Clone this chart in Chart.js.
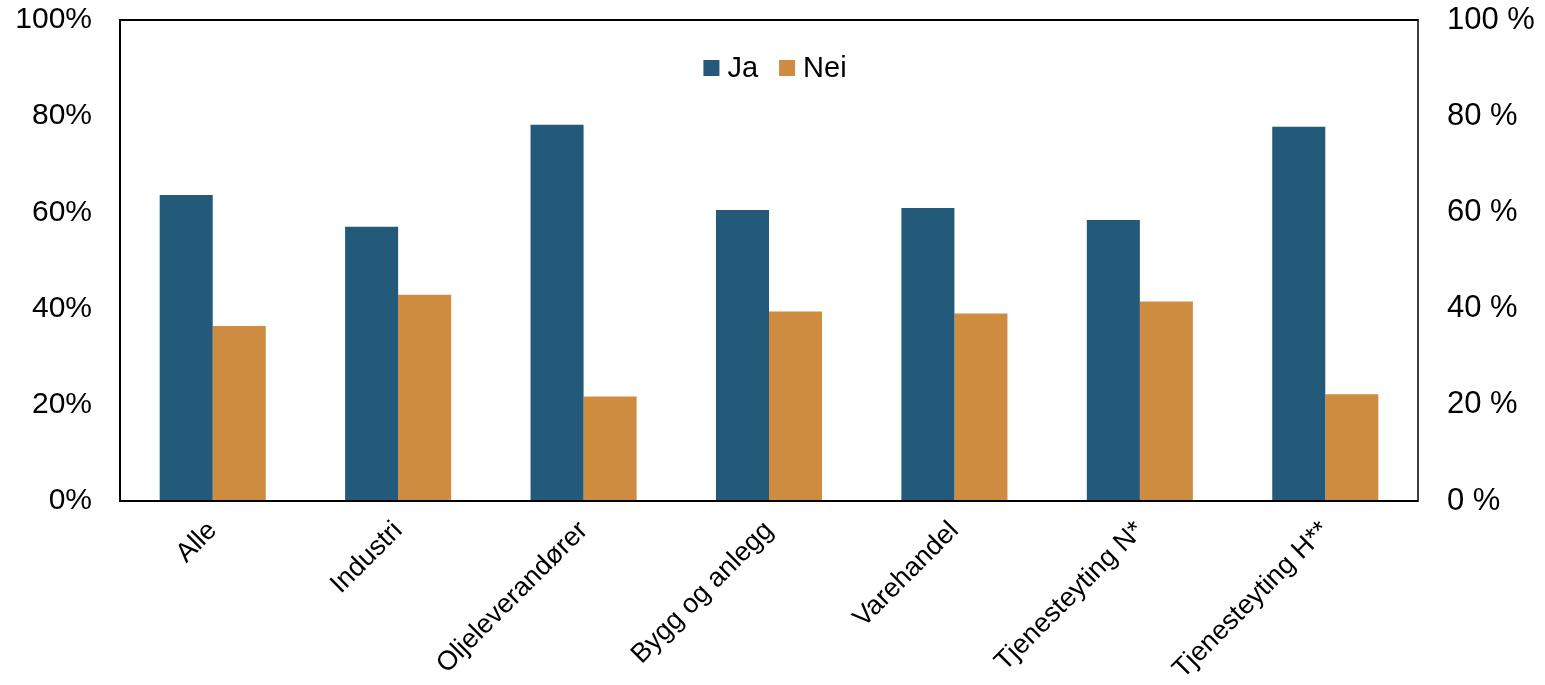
<!DOCTYPE html>
<html>
<head>
<meta charset="utf-8">
<script src="https://cdn.jsdelivr.net/npm/chart.js@4"></script>
<style>
  html, body { margin: 0; padding: 0; background: #ffffff; }
  #wrap { width: 1545px; height: 685px; position: relative; }
</style>
</head>
<body>
<div id="wrap"><canvas id="c" width="1545" height="685"></canvas></div>
<script>
const categories = ["Alle", "Industri", "Oljeleverandører", "Bygg og anlegg", "Varehandel", "Tjenesteyting N*", "Tjenesteyting H**"];
const jaValues  = [63.6, 57.0, 78.2, 60.5, 60.9, 58.4, 77.8];
const neiValues = [36.4, 42.9, 21.7, 39.4, 39.0, 41.5, 22.2];
const seriesNames = ["Ja", "Nei"];
const seriesColors = ["#235A79", "#CE8C41"];
const yTicks = [0, 20, 40, 60, 80, 100];

const FONT = "'Liberation Sans', Arial, sans-serif";

const frame = {
  id: 'frame',
  afterDraw(chart) {
    const a = chart.chartArea, ctx = chart.ctx;
    ctx.save();
    ctx.strokeStyle = '#000';
    ctx.lineWidth = 2;
    ctx.beginPath();
    ctx.moveTo(a.left - 1, a.top); ctx.lineTo(a.right, a.top);
    ctx.moveTo(a.left, a.top); ctx.lineTo(a.left, a.bottom);
    ctx.moveTo(a.left - 1, a.bottom); ctx.lineTo(a.right, a.bottom);
    ctx.stroke();
    ctx.lineWidth = 1.5;
    ctx.beginPath();
    ctx.moveTo(a.right, a.top - 1); ctx.lineTo(a.right, a.bottom + 1);
    ctx.stroke();
    ctx.restore();
  }
};

const innerLegend = {
  id: 'innerLegend',
  afterDraw(chart) {
    const a = chart.chartArea, ctx = chart.ctx;
    const box = 16, gapText = 8, gapItem = 21;
    ctx.save();
    ctx.font = "29px " + FONT;
    const items = chart.data.datasets.map(d => ({ label: d.label, color: d.backgroundColor, w: ctx.measureText(d.label).width }));
    let total = 0;
    items.forEach((it, i) => { total += box + gapText + it.w + (i < items.length - 1 ? gapItem : 0); });
    let x = (a.left + a.right) / 2 + 6 - total / 2;
    const cy = a.top + 48;
    ctx.textBaseline = 'middle';
    ctx.textAlign = 'left';
    items.forEach(it => {
      ctx.fillStyle = it.color;
      ctx.fillRect(x, cy - box / 2, box, box);
      x += box + gapText;
      ctx.fillStyle = '#000';
      ctx.fillText(it.label, x, cy + 1);
      x += it.w + gapItem;
    });
    ctx.restore();
  }
};

new Chart(document.getElementById('c'), {
  type: 'bar',
  data: {
    labels: categories,
    datasets: [
      { label: seriesNames[0], data: jaValues, backgroundColor: seriesColors[0], yAxisID: 'y' },
      { label: seriesNames[1], data: neiValues, backgroundColor: seriesColors[1], yAxisID: 'y' }
    ]
  },
  options: {
    responsive: false,
    animation: false,
    devicePixelRatio: 1,
    layout: { padding: { top: 20, left: 0, right: 0, bottom: 0 } },
    datasets: { bar: { categoryPercentage: 0.572, barPercentage: 1.0 } },
    scales: {
      x: {
        grid: { display: false, drawTicks: false },
        border: { display: false },
        ticks: {
          color: '#000', font: { family: FONT, size: 27 },
          minRotation: 45, maxRotation: 45, padding: 14, autoSkip: false
        },
        afterFit(s) { s.height = 184; s.paddingLeft = 0; s.paddingRight = 0; }
      },
      y: {
        position: 'left', min: 0, max: 100,
        afterBuildTicks(s) { s.ticks = yTicks.map(v => ({ value: v })); },
        grid: { display: false, drawTicks: false },
        border: { display: false },
        ticks: { color: '#000', font: { family: FONT, size: 30 }, padding: 28,
                 callback: v => v + '%' },
        afterFit(s) { s.width = 120; s.paddingTop = 0; s.paddingBottom = 0; }
      },
      y2: {
        position: 'right', min: 0, max: 100,
        afterBuildTicks(s) { s.ticks = yTicks.map(v => ({ value: v })); },
        grid: { display: false, drawTicks: false },
        border: { display: false },
        ticks: { color: '#000', font: { family: FONT, size: 31 }, padding: 29,
                 callback: v => v + ' %' },
        afterFit(s) { s.width = 127; s.paddingTop = 0; s.paddingBottom = 0; }
      }
    },
    plugins: {
      legend: { display: false },
      tooltip: { enabled: false }
    }
  },
  plugins: [frame, innerLegend]
});
</script>
</body>
</html>
